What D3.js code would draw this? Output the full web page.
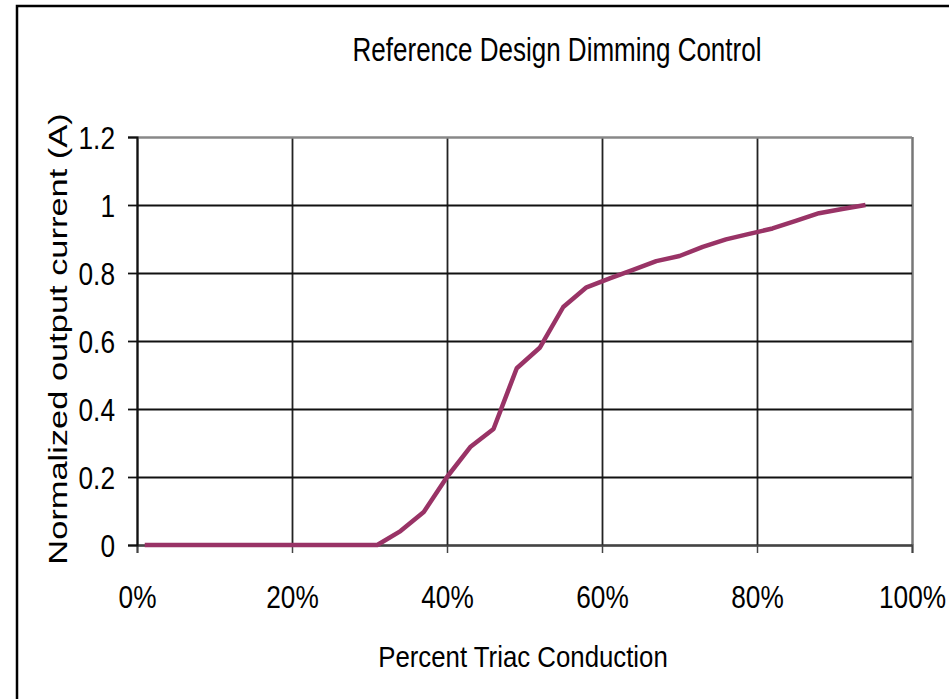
<!DOCTYPE html>
<html>
<head>
<meta charset="utf-8">
<script src="https://cdn.jsdelivr.net/npm/d3@7"></script>
<style>
  body { margin: 0; background: #fff; }
  svg { display: block; font-family: "Liberation Sans", Arial, sans-serif; }
</style>
</head>
<body>
<svg width="949" height="699"></svg>
<script>
// percent triac conduction (fraction) and normalized output current
var conduction = [0.01, 0.04, 0.07, 0.10, 0.13, 0.16, 0.19, 0.22, 0.25, 0.28, 0.31,
                  0.34, 0.37, 0.40, 0.43, 0.46, 0.49, 0.52, 0.55, 0.58, 0.61,
                  0.64, 0.67, 0.70, 0.73, 0.76, 0.79, 0.82, 0.85, 0.88, 0.91, 0.94];
var current = [0, 0, 0, 0, 0, 0, 0, 0, 0, 0, 0,
               0.041, 0.097, 0.20, 0.288, 0.341, 0.52, 0.581, 0.70, 0.758, 0.784,
               0.809, 0.835, 0.85, 0.877, 0.899, 0.915, 0.931, 0.953, 0.976, 0.988, 1.0];
var xTicks = [0, 0.2, 0.4, 0.6, 0.8, 1.0];
var yTicks = [0, 0.2, 0.4, 0.6, 0.8, 1.0, 1.2];

var svg = d3.select("svg"),
    margin = {top: 137, right: 37, bottom: 154, left: 137},
    width = 949 - margin.left - margin.right,
    height = 699 - margin.top - margin.bottom;

// outer chart frame (runs off the right and bottom edges)
svg.append("rect")
    .attr("x", 17).attr("y", 6)
    .attr("width", 960).attr("height", 720)
    .attr("fill", "none").attr("stroke", "#000").attr("stroke-width", 2.5);

var g = svg.append("g").attr("transform", "translate(" + margin.left + "," + margin.top + ")");

var x = d3.scaleLinear().domain([0, 1]).range([0, width]),
    y = d3.scaleLinear().domain([0, 1.2]).range([height, 0]);

var data = conduction.map(function(c, i) { return {x: c, y: current[i]}; });

// gridlines
g.append("g")
    .attr("class", "grid")
    .attr("transform", "translate(0," + height + ")")
    .call(d3.axisBottom(x).tickValues(xTicks).tickSize(-height).tickFormat(""))
    .call(function(s) {
      s.select(".domain").remove();
      s.selectAll("line").attr("stroke", "#222").attr("stroke-width", 1.8);
      s.selectAll(".tick:last-of-type line").attr("stroke", "#777").attr("stroke-width", 2.5);
    });

g.append("g")
    .attr("class", "grid")
    .call(d3.axisLeft(y).tickValues(yTicks).tickSize(-width).tickFormat(""))
    .call(function(s) {
      s.select(".domain").remove();
      s.selectAll("line").attr("stroke", "#111").attr("stroke-width", 2);
      s.selectAll(".tick:last-of-type line").attr("stroke", "#888").attr("stroke-width", 2.5);
    });

// axes - labels are squeezed sideways to look like a narrow face
g.append("g")
    .attr("transform", "translate(0," + height + ")")
    .call(d3.axisBottom(x).tickValues(xTicks).tickSize(8).tickPadding(32).tickFormat(d3.format(".0%")))
    .call(function(s) {
      s.select(".domain").attr("stroke", "#444").attr("stroke-width", 2);
      s.selectAll(".tick line").attr("stroke", "#444").attr("stroke-width", 1.5);
      s.selectAll("text").attr("font-size", 32).attr("fill", "#000")
        .attr("transform", "scale(0.82,1)");
    });

g.append("g")
    .call(d3.axisLeft(y).tickValues(yTicks).tickSize(9).tickPadding(13)
      .tickFormat(function(d) { return d3.format("")(+d.toFixed(1)); }))
    .call(function(s) {
      s.select(".domain").attr("stroke", "#111").attr("stroke-width", 2);
      s.selectAll(".tick line").attr("stroke", "#111").attr("stroke-width", 1.8);
      s.selectAll("text").attr("font-size", 32).attr("fill", "#000").attr("dy", "0.36em")
        .attr("x", 0).attr("transform", "translate(-22,0) scale(0.82,1)");
    });

// series line
var line = d3.line()
    .x(function(d) { return x(d.x); })
    .y(function(d) { return y(d.y); });

g.append("path")
    .datum(data)
    .attr("fill", "none")
    .attr("stroke", "#993366")
    .attr("stroke-width", 4.5)
    .attr("stroke-linejoin", "round")
    .attr("d", line);

// titles
svg.append("text")
    .attr("transform", "translate(557,61) scale(0.80,1)")
    .attr("text-anchor", "middle")
    .attr("font-size", 32.5)
    .text("Reference Design Dimming Control");

svg.append("text")
    .attr("transform", "translate(523,667) scale(0.86,1)")
    .attr("text-anchor", "middle")
    .attr("font-size", 30)
    .text("Percent Triac Conduction");

svg.append("text")
    .attr("transform", "translate(67,339) rotate(-90) scale(1.35,1)")
    .attr("text-anchor", "middle")
    .attr("font-size", 25.5)
    .text("Normalized output current (A)");
</script>
</body>
</html>
